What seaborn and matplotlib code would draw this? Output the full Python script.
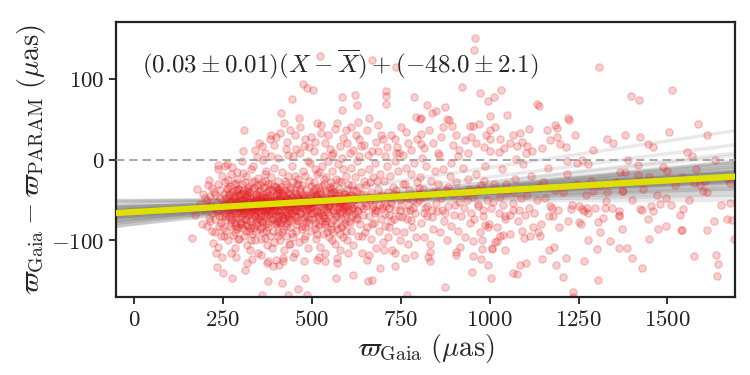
import numpy as np
import pandas as pd
import matplotlib
matplotlib.use("Agg")
import matplotlib.pyplot as plt
import seaborn as sns

# fit result: slope*(X - Xbar) + intercept
fit_slope = 0.026
fit_icpt = -48.0
x_mean = 650.0

# posterior draws of the fit (slope, intercept)
draw_slope = [0.026, 0.019, 0.033, 0.028, 0.012, 0.041, 0.024, 0.030, 0.017, 0.036,
              0.022, 0.027, 0.009, 0.045, 0.031, 0.020, 0.025, 0.038, 0.015, 0.029,
              0.034, 0.023, 0.006, 0.048, 0.026, 0.018, 0.032, 0.021, 0.039, 0.014,
              0.028, 0.025, 0.043, 0.011, 0.030, 0.024, 0.035, 0.016, 0.027, 0.022,
              0.052, 0.003, 0.031, 0.019, 0.037, 0.026, 0.013, 0.040, 0.023, 0.029,
              0.033, 0.020, 0.008, 0.044, 0.027, 0.024, 0.058, 0.066, 0.000, 0.030,
              0.025, 0.028, 0.022, 0.031, 0.026, 0.024, 0.029, 0.021, 0.027, 0.032]
draw_icpt = [-48.2, -46.5, -49.8, -47.1, -50.3, -45.9, -48.8, -47.6, -51.0, -46.2,
             -49.1, -48.0, -45.4, -50.7, -47.9, -49.5, -46.8, -48.6, -51.6, -47.3,
             -49.9, -46.0, -48.4, -44.9, -50.1, -47.7, -48.9, -45.7, -49.3, -46.6,
             -52.0, -47.0, -48.3, -50.9, -46.4, -49.6, -47.4, -44.6, -48.7, -50.4,
             -46.1, -49.0, -47.5, -51.3, -45.2, -48.1, -49.7, -46.9, -47.8, -50.6,
             -45.8, -48.5, -52.4, -47.2, -49.4, -46.3, -42.0, -33.0, -50.0, -48.9,
             -47.5, -48.7, -49.2, -46.8, -48.1, -50.0, -47.0, -48.5, -49.5, -46.4]

# stars above the zero line
high = [(523,128),(668,123),(737,114),(474,93),(486,88),(504,86),(443,75),(412,57),(465,52),(310,37),
        (584,78),(620,80),(628,67),(584,61),(709,85),(709,79),(709,69),(661,51),(631,47),(596,37),
        (610,40),(572,45),(525,43),(787,77),(792,53),(806,51),(422,45),(410,33),(399,28),(383,26),
        (360,17),(307,10),(237,-7),(275,-9),(479,17),(497,28),(480,25),(526,33),(551,13),(580,17),
        (589,27),(686,43),(694,31),(701,26),(734,25),(765,34),(739,15),(806,32),(806,19),(634,26),
        (639,17),(427,13),(446,5),(455,13),
        (959,150),(956,135),(1308,115),(923,90),(973,82),(994,73),(1012,78),(1032,86),(1397,79),(1420,74),
        (1514,86),(1134,69),(1140,66),(823,67),(837,58),(848,60),(875,65),(1001,54),(1050,55),(803,50),
        (879,50),(893,42),(886,49),(945,41),(953,41),(1001,37),(1111,38),(1162,37),(1184,43),(1189,39),
        (1221,52),(1224,49),(947,28),(1002,26),(1030,26),(1067,30),(1085,33),(1189,28),(1381,31),(1423,28),
        (1503,34),(1587,44),(1612,31),(1348,20),(1446,19),(1460,16),(1554,9),(1568,5),(984,15),(1000,10),
        (1076,17),(1104,17),(1147,14),(1198,19),(1215,16),(1027,9),(1075,1),(1103,8),(1217,-2),(1245,-4),
        (1259,0),(1278,-5),(1390,0),(1418,-7),(1487,-9),(1380,-16),(1418,-19),(1447,-21),(1500,-14),
        (340,12),(352,20),(368,8),(385,30),(395,18),(430,22),(438,36),(452,30),(468,40),(492,16),
        (508,22),(515,45),(538,20),(545,30),(560,8),(566,38),(600,20),(615,12),(625,30),(648,18),
        (655,36),(670,10),(680,22),(712,16),(722,30),(745,8),(752,40),(770,20),(778,12),(795,26),
        (815,14),(830,36),(842,20),(855,8),(862,28),(870,40),(898,18),(905,30),(915,12),(932,24),
        (938,8),(962,20),(970,44),(990,30),(1015,40),(1040,14),(1058,20),(1090,22),(1120,10),(1170,24),
        (1240,30),(1290,12),(1330,26)]

# stars well below the fit, x < 800
low = [(359,-167),(378,-150),(417,-153),(460,-160),(481,-147),(487,-168),(433,-168),(399,-124),(420,-125),
       (373,-128),(409,-131),(333,-123),(287,-120),(276,-147),(514,-124),(537,-126),(570,-122),(567,-147),
       (617,-143),(654,-124),(659,-150),(668,-149),(692,-134),(734,-132),(762,-122),(767,-168),(601,-115),
       (660,-118),(702,-112),(734,-116)]

# sparse right-hand part, x > 800
right = [(875,-158),(831,-114),(831,-126),(906,-114),(906,-118),(951,-139),(954,-119),(976,-123),(996,-131),
         (1004,-147),(979,-111),(1008,-111),(1043,-112),(954,-101),(978,-99),(1015,-102),(1038,-93),(1067,-140),
         (1076,-142),(1085,-130),(1102,-128),(1148,-123),(1168,-112),(1182,-108),(1215,-122),(1188,-131),
         (1207,-145),(1234,-164),(1234,-170),(1264,-126),(1278,-100),(1303,-111),(1306,-149),(1309,-89),
         (1339,-101),(1365,-110),(1387,-110),(1401,-122),(1429,-134),(1449,-98),(1474,-86),(1496,-82),
         (1540,-87),(1575,-119),(1612,-87),(1632,-76),(1637,-118),(1643,-129),(1640,-144),(1668,-73),
         (1681,-75),(1676,-54),(1688,-98),(1365,-64),(1365,-68),(1365,-70),(1371,-86),(1423,-61),(1428,-63),
         (1446,-73),(1454,-57),(1479,-55),(1495,-48),(1509,-56),(1535,-69),(1538,-87),(1545,-61),(1327,-51),
         (1325,-60),(1318,-72),(1306,-77),(1278,-66),(1264,-64),(1250,-58),(1273,-60),(1259,-61),(1220,-76),
         (1250,-77),(1228,-61),(1193,-62),(1170,-58),(1168,-70),(1132,-50),(1112,-60),(1100,-68),(1090,-88),
         (1097,-97),(1114,-95),(1137,-90),(1142,-95),(1121,-84),(1067,-62),(1057,-68),(1043,-73),(1038,-56),
         (1025,-66),(1020,-101),(1006,-109),(996,-83),(987,-81),(982,-70),(1576,-29),(1606,-26),(1599,-39),
         (1592,-31),(1676,-29),(1667,-23),(1634,0),(1367,-16),(1540,-21),(1310,-33),(1292,-39),(1376,-39),
         (1371,-39),(1330,-40),(1355,-28),(1400,-50),(1430,-36),(1470,-44),(1520,-32),(1560,-50),(1610,-40),
         (1650,-56),(1345,-60),(1460,-64),(1580,-12)]

# dense clump, x < 500
core_left = [(172,-69),(162,-97),(178,-36),(193,-43),(185,-55),(196,-62),(190,-80),(209,-31),(212,-25),(214,-76),
             (223,-103),(237,-108),(231,-116),(248,-120),(234,-133),(249,-140),
             (205,-50),(208,-58),(215,-45),(218,-66),(220,-88),(225,-40),(226,-60),(229,-73),(232,-52),(235,-30),
             (238,-82),(240,-62),(242,-47),(244,-95),(246,-70),(247,-20),(249,-56),(236,-12),(228,-90),(212,-72),
             (241,-38),(245,-78),
             (252,-60),(253,-42),(255,-75),(256,-28),(258,-55),(259,-88),(260,-66),(261,-48),(263,-35),(264,-100),
             (265,-58),(266,-71),(268,-44),(269,-62),(270,-52),(271,-82),(272,-18),(273,-68),(275,-40),(276,-57),
             (277,-93),(278,-50),(279,-73),(280,-30),(281,-64),(282,-46),(283,-110),(284,-56),(285,-78),(286,-38),
             (287,-66),(288,-52),(289,-86),(290,-24),(291,-60),(292,-44),(293,-72),(294,-58),(295,-98),(296,-36),
             (297,-63),(298,-49),(299,-80),(262,-5),(274,-115),(257,-8),
             (300,-55),(301,-70),(302,-42),(303,-62),(304,-30),(305,-85),(306,-50),(307,-66),(308,-38),(309,-58),
             (310,-95),(311,-46),(312,-74),(313,-54),(314,-20),(315,-64),(316,-80),(317,-44),(318,-60),(319,-106),
             (320,-34),(321,-68),(322,-52),(323,-88),(324,-40),(325,-58),(326,-76),(327,-48),(328,-12),(329,-66),
             (330,-56),(331,-92),(332,-36),(333,-72),(334,-60),(335,-46),(336,-84),(337,-26),(338,-62),(339,-52),
             (340,-100),(341,-70),(342,-42),(343,-58),(344,-78),(345,-32),(346,-64),(347,-50),(348,-116),(349,-54),
             (303,-2),(318,-128),(335,-8),(312,-136),(345,3),(326,-112),
             (350,-60),(351,-44),(352,-72),(353,-54),(354,-86),(355,-38),(356,-66),(357,-50),(358,-98),(359,-28),
             (360,-62),(361,-76),(362,-46),(363,-58),(364,-90),(365,-34),(366,-70),(367,-52),(368,-64),(369,-18),
             (370,-80),(371,-48),(372,-60),(373,-106),(374,-40),(375,-68),(376,-56),(377,-84),(378,-30),(379,-62),
             (380,-50),(381,-94),(382,-44),(383,-72),(384,-58),(385,-22),(386,-66),(387,-52),(388,-110),(389,-38),
             (390,-74),(391,-56),(392,-88),(393,-46),(394,-62),(395,-10),(396,-78),(397,-54),(398,-34),(399,-68),
             (356,-118),(364,0),(377,-126),(386,4),(392,-132),(371,-14),
             (400,-58),(401,-42),(402,-76),(403,-50),(404,-64),(405,-26),(406,-90),(407,-56),(408,-40),(409,-70),
             (410,-48),(411,-100),(412,-62),(413,-34),(414,-80),(415,-54),(416,-68),(417,-16),(418,-58),(419,-86),
             (420,-44),(421,-72),(422,-52),(423,-112),(424,-38),(425,-64),(426,-56),(427,-94),(428,-30),(429,-66),
             (430,-48),(431,-78),(432,-60),(433,-20),(434,-70),(435,-50),(436,-104),(437,-42),(438,-62),(439,-84),
             (440,-36),(441,-58),(442,-74),(443,-46),(444,-8),(445,-66),(446,-54),(447,-96),(448,-28),(449,-60),
             (406,2),(418,-122),(432,6),(447,-120),
             (450,-52),(452,-70),(453,-38),(455,-62),(456,-88),(458,-46),(459,-58),(461,-24),(462,-76),(464,-54),
             (465,-102),(467,-40),(468,-66),(470,-50),(471,-82),(473,-32),(474,-60),(476,-14),(477,-72),(479,-48),
             (480,-94),(482,-56),(483,-36),(485,-68),(486,-44),(488,-110),(489,-62),(491,-26),(492,-78),(494,-52),
             (495,-4),(497,-66),(498,-42),(499,-88),(454,-116),(466,8),(478,-126),(490,-2),(457,-30),(472,-56),
             (487,-58),(463,-64),(481,-20)]

# clump, 500 <= x < 800
core_mid = [(500,-60),(502,-40),(503,-74),(505,-52),(506,-28),(508,-86),(509,-56),(511,-44),(512,-98),(514,-64),
            (515,-18),(517,-70),(518,-48),(520,-80),(521,-34),(523,-58),(524,-108),(526,-42),(527,-66),(529,-8),
            (530,-92),(532,-54),(533,-30),(535,-72),(536,-46),(538,-116),(539,-62),(541,-22),(542,-84),(544,-50),
            (545,-2),(547,-68),(548,-38),(549,-96),(507,10),(519,-120),(534,4),(546,-58),(510,-12),(528,-76),
            (550,-56),(552,-34),(554,-78),(555,-48),(557,-14),(559,-90),(560,-62),(562,-40),(564,-104),(565,-52),
            (567,-24),(569,-70),(570,-44),(572,-86),(574,-6),(575,-60),(577,-36),(579,-112),(580,-66),(582,-28),
            (584,-82),(585,-50),(587,-12),(589,-96),(590,-58),(592,-42),(594,-74),(595,-20),(597,-64),(599,-100),
            (556,6),(571,-128),(586,2),(598,-46),(563,-66),(581,-54),
            (600,-52),(603,-30),(605,-76),(607,-44),(609,-10),(611,-88),(613,-60),(615,-38),(617,-106),(619,-56),
            (621,-22),(623,-72),(625,-48),(627,-2),(629,-94),(631,-64),(633,-34),(635,-80),(637,-16),(639,-58),
            (641,-116),(643,-42),(645,-68),(647,-26),(649,-90),(606,8),(618,-50),(632,4),(644,-60),(612,-70),
            (626,-62),
            (650,-54),(653,-32),(655,-84),(658,-46),(660,-12),(662,-70),(665,-98),(667,-40),(669,-60),(672,-22),
            (674,-78),(676,-50),(679,-4),(681,-110),(683,-64),(686,-36),(688,-88),(690,-56),(693,-18),(695,-74),
            (697,-44),(699,-102),(657,6),(671,-58),(685,10),(698,-60),(664,-28),(678,-66),
            (700,-48),(703,-26),(705,-82),(708,-58),(710,-8),(713,-96),(715,-40),(718,-68),(720,-20),(723,-54),
            (725,-112),(728,-34),(730,-74),(733,-2),(735,-62),(738,-88),(740,-44),(743,-14),(745,-70),(748,-100),
            (706,4),(722,-76),(736,8),(747,-50),(716,-60),
            (752,-56),(755,-30),(758,-90),(761,-46),(764,-10),(767,-74),(770,-104),(773,-38),(776,-62),(779,-18),
            (782,-84),(785,-50),(788,-4),(791,-66),(794,-96),(797,-28),(757,6),(772,-56),(786,-118),(799,-42),
            (765,-64)]

# thinning tail, 800 <= x < 1300
core_right = [(802,-50),(805,-22),(808,-78),(812,-36),(815,-96),(818,-60),(822,-8),(825,-70),(828,-44),(832,-104),
              (835,-26),(838,-62),(842,-86),(845,-14),(848,-54),(810,2),(826,-120),(840,-40),(816,-66),
              (852,-64),(856,-30),(860,-90),(864,-48),(868,-12),(872,-76),(876,-38),(880,-100),(884,-58),(888,-20),
              (892,-82),(896,-44),(858,6),(874,-66),(890,-4),
              (902,-56),(906,-28),(910,-88),(915,-40),(920,-70),(925,-10),(930,-96),(935,-50),(940,-24),(945,-78),
              (912,4),(928,-60),(942,-36),(918,-108),
              (952,-46),(957,-74),(962,-18),(967,-58),(972,-90),(977,-32),(982,-62),(987,-8),(992,-50),(997,-80),
              (965,-36),(985,-26),
              (1005,-60),(1012,-30),(1020,-84),(1028,-46),(1035,-12),(1042,-70),(1050,-40),(1058,-92),(1065,-54),
              (1072,-24),(1080,-76),(1088,-48),(1095,-6),(1010,-52),(1046,-30),(1068,-40),(1083,-62),(1030,-94),
              (1105,-44),(1115,-20),(1125,-66),(1135,-34),(1145,-80),(1155,-48),(1165,-10),(1175,-60),(1185,-38),
              (1195,-84),(1150,-28),(1178,-70),
              (1205,-40),(1218,-18),(1232,-56),(1246,-30),(1258,-80),(1272,-44),(1286,-26),(1296,-60)]

# extra stars in the saturated middle of the clump
core_dense = [(262,-52),(318,-47),(287,-71),(354,-58),(402,-49),(441,-67),(376,-39),(298,-60),(333,-81),(365,-53),
              (421,-61),(456,-43),(389,-73),(342,-45),(309,-66),(277,-44),(395,-56),(428,-82),(470,-59),(352,-64),
              (383,-47),(322,-57),(291,-83),(417,-40),(445,-55),(363,-77),(337,-35),(404,-69),(268,-65),(302,-50),
              (481,-71),(359,-42),(392,-62),(426,-53),(315,-74),(347,-59),(372,-88),(410,-45),(284,-56),(437,-76),
              (492,-48),(328,-63),(361,-51),(398,-80),(453,-64),(305,-41),(379,-68),(414,-57),(343,-90),(466,-37),
              (257,-70),(324,-45),(388,-55),(431,-48),(358,-70),(296,-54),(409,-66),(449,-52),(371,-60),(336,-52),
              (511,-57),(527,-49),(546,-65),(563,-53),(588,-61),(602,-46),(621,-67),(538,-72),(575,-41),(594,-79),
              (509,-35),(532,-61),(557,-47),(579,-58),(611,-55),(636,-43),(519,-82),(548,-54),(571,-70),(598,-36),
              (504,-66),(541,-40),(567,-59),(590,-49),(628,-73),(652,-57),(515,-47),(553,-86),(584,-64),(617,-60),
              (270,-33),(283,-90),(311,-28),(330,-100),(349,-23),(367,-97),(385,-30),(406,-95),(425,-26),(444,-91),
              (462,-30),(477,-98),(497,-33),(514,-92),(535,-24),(556,-99),(577,-27),(596,-88),(613,-31),(640,-95),
              (255,-48),(274,-78),(293,-36),(314,-88),(338,-67),(355,-32),(378,-79),(399,-43),(419,-75),(438,-34),
              (459,-80),(475,-45),(490,-74),(506,-52),(522,-39),(540,-76),(560,-33),(582,-84),(605,-65),(625,-39),
              (663,-50),(677,-62),(691,-45),(707,-67),(722,-52),(738,-38),(754,-71),(769,-48),(784,-60),(801,-35),
              (668,-80),(684,-27),(701,-57),(717,-84),(732,-42),(749,-62),(763,-30),(780,-75),(796,-52),(813,-46),
              (823,-58),(839,-71),(851,-40),(867,-62),(883,-34),(899,-68),(914,-52),(931,-44),(948,-66),(966,-55),
              (244,-58),(251,-85),(265,-25),(279,-62),(292,-98),(307,-17),(320,-82),(332,-28),(346,-73),(357,-84),
              (368,-26),(381,-64),(393,-102),(405,-36),(416,-90),(429,-58),(440,-104),(452,-20),(463,-48),(473,-86),
              (484,-62),(496,-54),(508,-78),(520,-16),(531,-51),(544,-90),(553,-28),(566,-44),(578,-92),(593,-57),
              (216,-56),(227,-44),(239,-70),(206,-82),(220,-35),(233,-64),(199,-48),(253,-94),(261,-37),(289,-15)]

core_dense2 = [(281,-58),(299,-45),(316,-69),(334,-55),(351,-40),(369,-66),(387,-51),(405,-78),(423,-44),(441,-59),
               (459,-71),(477,-52),(495,-63),(513,-44),(531,-70),(549,-57),(567,-80),(585,-45),(603,-62),(272,-74),
               (290,-39),(308,-56),(326,-85),(344,-49),(362,-61),(380,-36),(398,-64),(416,-50),(434,-72),(452,-41),
               (470,-66),(488,-55),(506,-38),(524,-64),(542,-47),(560,-75),(578,-52),(596,-67),(614,-44),(264,-61),
               (283,-48),(301,-77),(319,-39),(337,-62),(355,-75),(373,-45),(391,-59),(409,-37),(427,-68),(445,-46),
               (463,-57),(481,-83),(499,-45),(517,-67),(535,-55),(553,-41),(571,-63),(589,-55),(607,-78),(276,-53),
               (294,-66),(312,-43),(329,-59),(347,-81),(366,-48),(384,-57),(402,-38),(420,-72),(438,-50),(456,-75),
               (474,-42),(492,-60),(510,-71),(528,-33),(546,-60),(564,-47),(582,-72),(600,-58),(286,-29),(304,-80),
               (321,-36),(339,-70),(357,-47),(375,-63),(393,-33),(411,-77),(429,-40),(447,-62),(465,-50),(483,-77),
               (501,-58),(519,-43),(537,-80),(555,-37),(573,-53),(591,-43),(267,-43),(285,-82),(303,-59),(321,-64)]

x_ticks = [0, 250, 500, 750, 1000, 1250, 1500]
y_ticks = [-100, 0, 100]

df = pd.DataFrame(high + low + right + core_left + core_mid + core_right + core_dense + core_dense2,
                  columns=["plx", "dplx"])

sns.set_style("ticks")
plt.rcParams["mathtext.fontset"] = "cm"
plt.rcParams["font.family"] = ["DejaVu Serif"]

fig = plt.figure(figsize=(7.5, 3.75), dpi=100)
ax = fig.add_axes([0.155, 0.208, 0.825, 0.733])

xlim = (-50, 1690)
xs = np.array(xlim, dtype=float)

# grey band of fit draws
for a, b in zip(draw_slope, draw_icpt):
    ax.plot(xs, a * (xs - x_mean) + b, color="gray", alpha=0.17, lw=2.5, zorder=1)

sns.scatterplot(data=df, x="plx", y="dplx", color="#e41a1c", edgecolor="#e41a1c",
                alpha=0.21, s=28, linewidth=1.0, ax=ax, zorder=2)

ax.axhline(0, color="#999999", ls="--", lw=1.2, dashes=(5, 3), zorder=3)
ax.plot(xs, fit_slope * (xs - x_mean) + fit_icpt, color="#e0e000", lw=4.5, zorder=5)

ax.text(0.041, 0.845, r"$(0.03\pm0.01)(X-\overline{X})+(-48.0\pm2.1)$",
        transform=ax.transAxes, fontsize=18, va="center", ha="left")

ax.set_xlim(*xlim)
ax.set_ylim(-170, 170)
ax.set_xticks(x_ticks, labels=[f"${t}$" for t in x_ticks])
ax.set_yticks(y_ticks, labels=[f"${t}$" for t in y_ticks])
ax.tick_params(labelsize=16.5, length=5, width=1.3, direction="out", colors="#222222")
for sp in ax.spines.values():
    sp.set_linewidth(1.6)
    sp.set_color("#222222")

ax.set_xlabel(r"$\varpi_{\rm Gaia}\ (\mu{\rm as})$", fontsize=20.5, labelpad=1)
ax.set_ylabel(r"$\varpi_{\rm Gaia}-\varpi_{\rm PARAM}\ (\mu{\rm as})$", fontsize=20.5, labelpad=2)

fig.savefig("out.png", dpi=100)
